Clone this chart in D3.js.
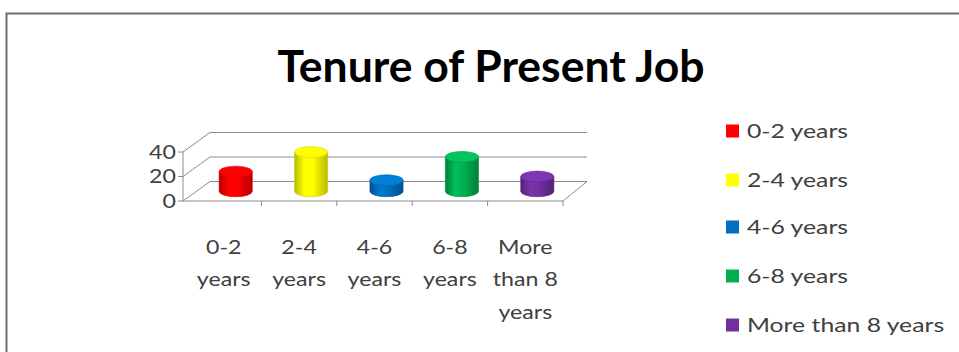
<!DOCTYPE html>
<html>
<head>
<meta charset="utf-8">
<script src="https://cdn.jsdelivr.net/npm/d3@7"></script>
<style>
  html, body { margin: 0; padding: 0; background: #fff; }
  svg { display: block; }
  text { font-family: Lato, "Open Sans", sans-serif; }
</style>
</head>
<body>
<svg id="chart" width="959" height="352"></svg>
<script>
// Tenure of present job, share of respondents per band
const categories = ["0-2 years", "2-4 years", "4-6 years", "6-8 years", "More than 8 years"];
const axisLabels = [["0-2", "years"], ["2-4", "years"], ["4-6", "years"], ["6-8", "years"], ["More", "than 8", "years"]];
const values = [16, 32, 9, 28, 12];
const colors = ["#ff0000", "#ffff00", "#0070c0", "#00b050", "#7030a0"];
const yTicks = [0, 20, 40];

const svg = d3.select("#chart");
const W = 959, H = 352;
const TEXT_STRETCH = 1.22;   // widen the body text horizontally
const placeText = (g, tx, ty, s = TEXT_STRETCH) => g.attr("transform", `translate(${tx},${ty}) scale(${s},1)`);

// outer frame of the chart area
svg.append("path")
  .attr("d", `M6.5,${H} V13.5 H${W}`)
  .attr("fill", "none").attr("stroke", "#6e6e6e").attr("stroke-width", 2);

// title
svg.append("text")
  .attr("x", 491).attr("y", 82)
  .attr("text-anchor", "middle")
  .attr("font-size", 44.5).attr("font-weight", 700)
  .attr("fill", "#000")
  .text("Tenure of Present Job");

// 3D plot geometry
const depth = { dx: 24, dy: -19.5 };
const x = d3.scaleBand().domain(categories).range([186, 563]).padding(0);
const y = d3.scaleLinear().domain([0, 40]).range([201, 152]);

const grid = svg.append("g").attr("fill", "none").attr("stroke", "#8c8c8c").attr("stroke-width", 1);
const x0 = x.range()[0], x1 = x.range()[1];

// back wall gridlines and side wall diagonals
yTicks.forEach(v => {
  const yy = y(v);
  grid.append("line")
    .attr("x1", x0 + depth.dx).attr("y1", yy + depth.dy)
    .attr("x2", x1 + depth.dx).attr("y2", yy + depth.dy);
  grid.append("line")
    .attr("x1", x0 - 3).attr("y1", yy)
    .attr("x2", x0 + depth.dx).attr("y2", yy + depth.dy);
});
// floor right edge and front edge
grid.append("line")
  .attr("x1", x1).attr("y1", y(0))
  .attr("x2", x1 + depth.dx).attr("y2", y(0) + depth.dy);
grid.append("line")
  .attr("x1", x0 - 3).attr("y1", y(0))
  .attr("x2", x1).attr("y2", y(0));
// left value axis line
grid.append("line")
  .attr("x1", x0 - 3).attr("y1", y(40))
  .attr("x2", x0 - 3).attr("y2", y(0));
// value axis tick marks
yTicks.forEach(v => {
  grid.append("line")
    .attr("x1", x0 - 8).attr("y1", y(v))
    .attr("x2", x0 - 3).attr("y2", y(v));
});
// category tick marks
categories.forEach(c => {
  const tx = x(c) + x.bandwidth();
  grid.append("line")
    .attr("x1", tx).attr("y1", y(0))
    .attr("x2", tx).attr("y2", y(0) + 5);
});

// value axis labels
yTicks.forEach(v => {
  svg.append("text")
    .call(placeText, x0 - 10, y(v))
    .attr("dy", "0.36em")
    .attr("text-anchor", "end")
    .attr("font-size", 19).attr("fill", "#404040")
    .text(v);
});

// category labels
categories.forEach((c, i) => {
  const t = svg.append("text")
    .call(placeText, x(c) + x.bandwidth() / 2, 254)
    .attr("text-anchor", "middle")
    .attr("font-size", 19).attr("fill", "#404040");
  axisLabels[i].forEach((line, j) => {
    t.append("tspan")
      .attr("x", 0)
      .attr("y", j * 32.5)
      .text(line);
  });
});

// cylinder gradients
const defs = svg.append("defs");
colors.forEach((col, i) => {
  const base = d3.color(col);
  const g = defs.append("linearGradient").attr("id", "cyl" + i)
    .attr("x1", "0%").attr("x2", "100%").attr("y1", "0%").attr("y2", "0%");
  g.append("stop").attr("offset", "0%").attr("stop-color", base.darker(0.9));
  g.append("stop").attr("offset", "30%").attr("stop-color", base.brighter(0.25));
  g.append("stop").attr("offset", "55%").attr("stop-color", base);
  g.append("stop").attr("offset", "100%").attr("stop-color", base.darker(0.9));
});

// cylinders, set at half depth
const rx = x.bandwidth() * 0.22, ry = 5.5;
const bars = svg.append("g");
categories.forEach((c, i) => {
  const cx = x(c) + x.bandwidth() / 2 + depth.dx / 2;
  const yb = y(0) + depth.dy / 2;
  const yt = y(values[i]) + depth.dy / 2;
  const col = d3.color(colors[i]);
  bars.append("path")
    .attr("d", `M${cx - rx},${yt} V${yb} A${rx},${ry} 0 0 0 ${cx + rx},${yb} V${yt} Z`)
    .attr("fill", `url(#cyl${i})`)
    .attr("stroke", col.darker(0.6)).attr("stroke-width", 0.6);
  bars.append("ellipse")
    .attr("cx", cx).attr("cy", yt).attr("rx", rx).attr("ry", ry)
    .attr("fill", col.brighter(0.35))
    .attr("stroke", col.darker(0.4)).attr("stroke-width", 0.6);
});

// legend
const ly = [131, 180, 227, 276, 325];
categories.forEach((c, i) => {
  svg.append("rect")
    .attr("x", 726).attr("y", ly[i] - 6.5).attr("width", 13).attr("height", 13)
    .attr("fill", colors[i]);
  svg.append("text")
    .call(placeText, 747, ly[i], 1.25)
    .attr("dy", "0.36em")
    .attr("font-size", 19.8).attr("fill", "#404040")
    .text(c);
});
</script>
</body>
</html>
